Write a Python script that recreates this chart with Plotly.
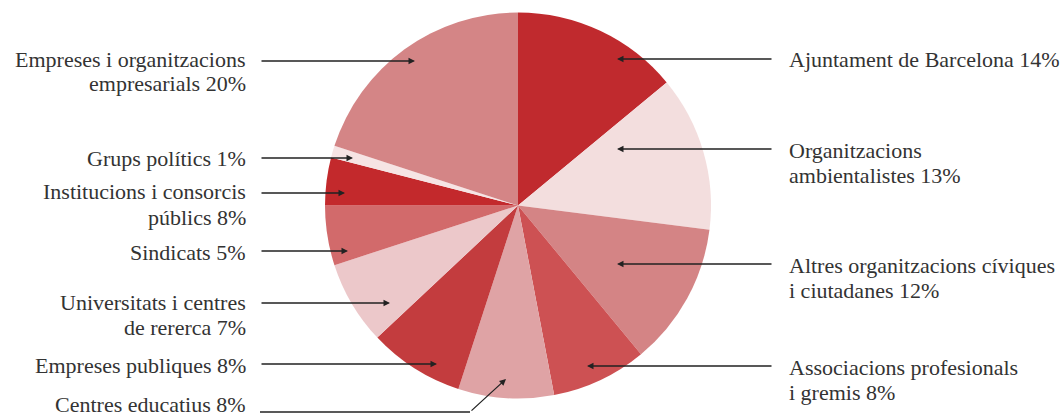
import plotly.graph_objects as go

W, H = 1062, 418

categories = [
    "Ajuntament de Barcelona", "Organitzacions ambientalistes",
    "Altres organitzacions cíviques i ciutadanes", "Associacions profesionals i gremis",
    "Centres educatius", "Empreses publiques", "Universitats i centres de rererca",
    "Sindicats", "Institucions i consorcis públics", "Grups polítics",
    "Empreses i organitzacions empresarials",
]
# slice sizes as drawn in the picture (percent)
values = [14, 13, 12, 8, 8, 8, 7, 5, 4, 1, 20]
label_lines = [
    ["Ajuntament de Barcelona 14%"],
    ["Organitzacions", "ambientalistes 13%"],
    ["Altres organitzacions cíviques", "i ciutadanes 12%"],
    ["Associacions profesionals", "i gremis 8%"],
    ["Centres educatius 8%"],
    ["Empreses publiques 8%"],
    ["Universitats i centres", "de rererca 7%"],
    ["Sindicats 5%"],
    ["Institucions i consorcis", "públics 8%"],
    ["Grups polítics 1%"],
    ["Empreses i organitzacions", "empresarials 20%"],
]
colors = ["#c02a2e", "#f3dede", "#d48485", "#cd5153", "#dfa3a5", "#c33c3e",
          "#ecc8ca", "#d26a6b", "#c3292c", "#f6e4e4", "#d48586"]

# layout: label side, first text line y (px), arrow y (px), arrow tip x (px)
sides = ["R", "R", "R", "R", "L", "L", "L", "L", "L", "L", "L"]
text_y = [58, 149, 264, 366, 408, 364, 301, 251, 191, 157, 58]
arrow_y = [59, 149, 264, 366, 412, 364, 303, 251, 193, 158, 61]
tip_x = [617, 617, 617, 587, 506, 437, 390, 348, 345, 353, 415]
LINE_GAP = 25

cx, cy, r = 518, 205.5, 193

def px(x):
    return x / W

def py(y):
    return 1 - y / H

fig = go.Figure(go.Pie(
    labels=categories, values=values, sort=False, direction="clockwise",
    rotation=0, marker=dict(colors=colors, line=dict(width=0)),
    textinfo="none", hoverinfo="label+percent", showlegend=False,
    domain=dict(x=[px(cx - r), px(cx + r)], y=[py(cy + r), py(cy - r)]),
))

font = dict(family="Liberation Serif", size=22, color="#333333")
arrow_style = dict(showarrow=True, arrowhead=2, arrowsize=1.0, arrowwidth=1.3,
                   arrowcolor="#222222", standoff=0, startstandoff=0, text="")
ann = []
shapes = []
for i, lines in enumerate(label_lines):
    for k, line in enumerate(lines):
        yy = text_y[i] + k * LINE_GAP
        pos = dict(y=py(yy + 1), yanchor="middle")
        if yy + 14 > H:  # keep the bottom line inside the picture
            pos = dict(y=0, yanchor="bottom")
        if sides[i] == "L":
            ann.append(dict(x=px(247), xref="paper", yref="paper",
                            text=line, showarrow=False, xanchor="right",
                            align="right", font=font, borderpad=0, **pos))
        else:
            ann.append(dict(x=px(788), xref="paper", yref="paper",
                            text=line, showarrow=False, xanchor="left",
                            align="left", font=font, borderpad=0, **pos))
    start_x = 260 if sides[i] == "L" else 773
    if categories[i] == "Centres educatius":
        shapes.append(dict(type="line", xref="paper", yref="paper",
                           x0=px(260), x1=px(470), y0=py(arrow_y[i]), y1=py(arrow_y[i]),
                           line=dict(color="#222222", width=1.3)))
        ann.append(dict(x=px(tip_x[i]), y=py(379), xref="paper", yref="paper",
                        ax=470 - tip_x[i], ay=arrow_y[i] - 379, **arrow_style))
    else:
        ann.append(dict(x=px(tip_x[i]), y=py(arrow_y[i]), xref="paper", yref="paper",
                        ax=start_x - tip_x[i], ay=0, **arrow_style))

fig.update_layout(
    width=W, height=H, margin=dict(l=0, r=0, t=0, b=0),
    paper_bgcolor="white", plot_bgcolor="white",
    annotations=ann, shapes=shapes,
)
fig.write_html("out.html", config={"displayModeBar": False},
               post_script="document.body.style.margin='0';document.body.style.overflow='hidden';")
